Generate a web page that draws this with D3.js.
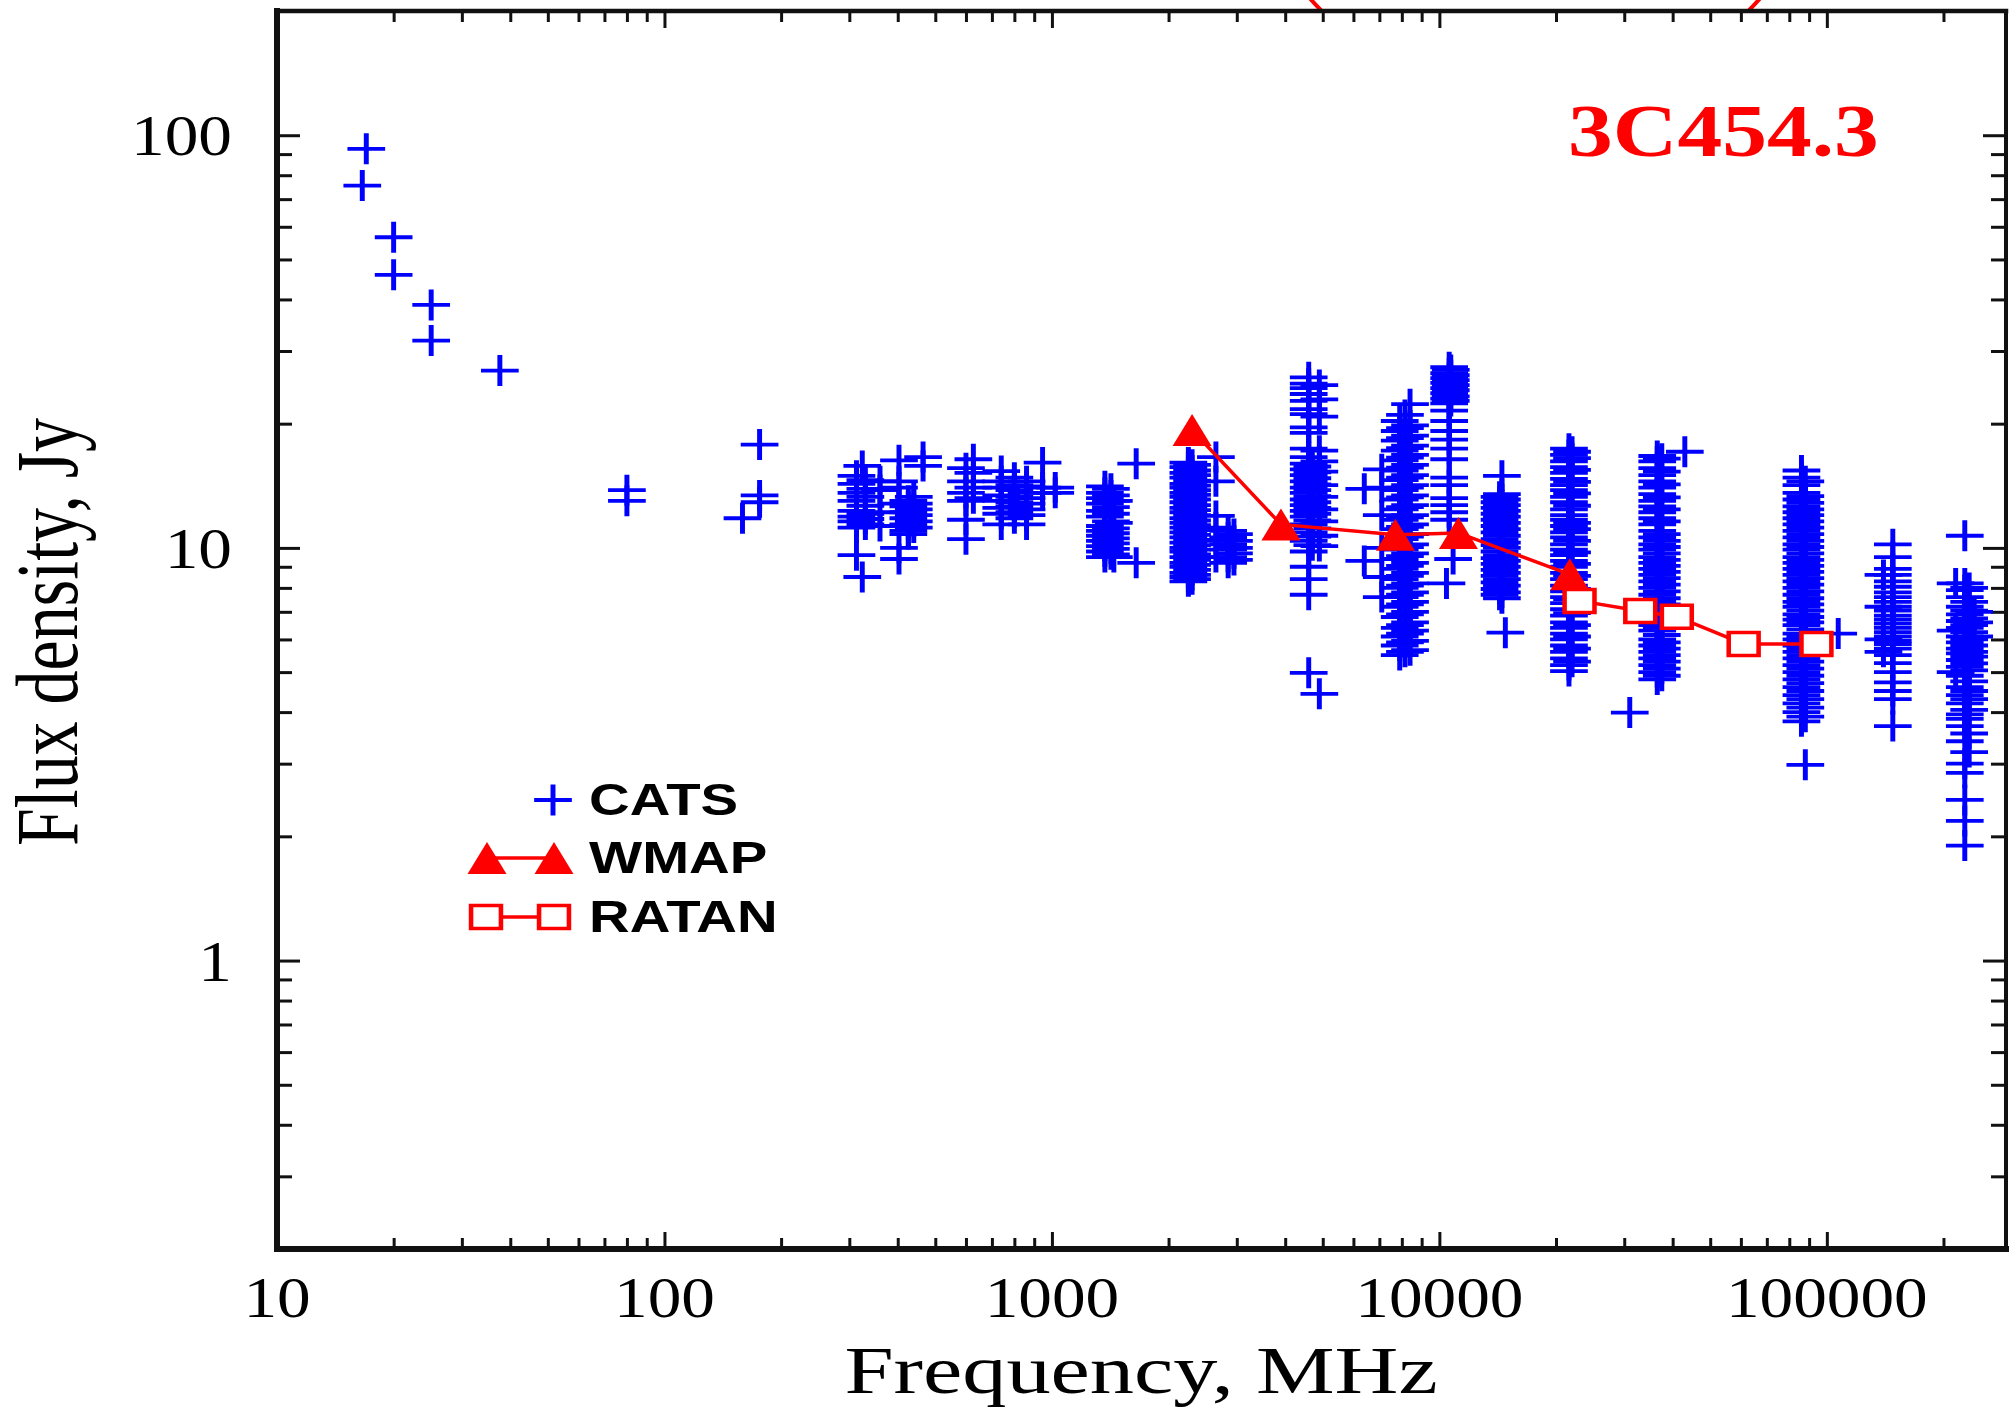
<!DOCTYPE html>
<html>
<head>
<meta charset="utf-8">
<script src="https://cdn.jsdelivr.net/npm/d3@7"></script>
<style>
  body { margin: 0; background: #fff; }
  svg { display: block; }
</style>
</head>
<body>
<svg id="chart" width="2013" height="1414"></svg>
<script>
// CATS catalogue measurements: frequency (MHz) and flux densities (Jy) at that frequency
const catsFreq = [
  17.0, 16.6, 20, 25, 37.6, 80, 159, 176,
  313, 324, 330, 360, 403, 426, 440, 465,
  600, 627, 740, 800, 860, 946, 1020,
  1370, 1420, 1445, 1650, 2250, 2300, 2650, 2850, 2950,
  4600, 4700, 4900, 6400, 7100, 7900, 8150, 8400,
  10600, 10700, 10850, 10430, 14300, 14500, 14800, 21600, 22000,
  31000, 36500, 37500, 43000, 86000, 88000, 107000,
  140000, 148000, 215000, 227000, 233000, 240000
];
const catsFlux = [
  [92.7], [75.5], [56.6, 45.9], [38.8, 31.8], [26.9], [13.8, 13.0], [11.8], [17.8, 13.4, 12.9],
  [14.95, 14.3, 13.6, 13.0, 12.3, 11.9, 11.6, 11.2, 9.6],
  [15.8, 8.5],
  [14.6, 13.9, 13.3, 12.65, 12.1, 11.75, 11.4],
  [14.5, 13.8, 12.2, 11.3],
  [16.3, 14.5, 14.0, 12.8, 10.0, 9.4],
  [13.0, 12.6, 12.2, 11.8, 11.4, 11.0, 10.8],
  [13.3, 12.8, 12.4, 12.0, 11.6, 11.2],
  [16.6, 15.8],
  [15.6, 14.5, 13.6, 13.0, 11.7, 10.5],
  [16.4, 15.2, 14.0, 13.2],
  [15.35, 14.5, 14.0, 13.4, 13.0, 12.5, 12.1, 11.4],
  [14.8, 14.2, 13.8, 13.3, 12.9, 12.6, 12.2, 11.8],
  [14.5, 14.1, 13.6, 13.2, 12.8, 12.4, 12.0, 11.4],
  [16.1, 14.0, 13.6],
  [14.0, 13.6],
  [14.1, 13.6, 13.2, 12.8, 12.3, 11.9, 11.3, 11.0, 10.7, 10.4, 10.1, 9.8, 9.5],
  [13.9, 13.4, 13.0, 12.55, 12.1, 11.6, 11.15, 10.85, 10.55, 10.25, 9.95, 9.65],
  [13.0, 11.5, 9.5],
  [16.0, 9.2],
  [16.1, 15.7, 15.2, 14.8, 14.3, 14.0, 13.6, 13.3, 12.9, 12.5, 12.2, 11.8, 11.5, 11.2, 10.9,
   10.6, 10.3, 10.0, 9.8, 9.5, 9.2, 9.0, 8.7, 8.5, 8.3],
  [15.9, 15.4, 15.0, 14.55, 14.15, 13.8, 13.45, 13.1, 12.7, 12.35, 12.0, 11.65, 11.35, 11.05,
   10.75, 10.45, 10.15, 9.9, 9.65, 9.35, 9.1, 8.85, 8.6, 8.4],
  [16.6, 14.5, 11.95, 11.2, 10.4, 9.5],
  [11.0, 10.6, 10.2, 9.9, 9.5, 9.2],
  [10.8, 10.4, 10.0, 9.7, 9.35],
  [25.9, 25.0, 24.4, 23.6, 22.7, 21.7, 21.1, 19.6, 19.0, 17.4, 16.6, 16.0, 15.5, 15.0, 14.5,
   14.0, 13.6, 13.1, 12.7, 12.3, 11.9, 11.4, 10.9, 10.4, 9.8, 9.0, 8.4, 7.7, 4.98],
  [15.75, 15.25, 14.75, 14.25, 13.8, 13.35, 12.9, 12.5, 12.1, 11.65, 11.15, 10.65, 10.15],
  [24.8, 22.9, 20.8, 17.2, 16.2, 15.3, 14.2, 13.3, 12.4, 11.6, 10.7, 10.1, 4.43],
  [13.9, 9.3],
  [15.5, 14.0, 12.0, 10.0, 8.5, 7.6],
  [20.3, 19.2, 18.2, 17.2, 16.3, 15.4, 14.6, 13.8, 13.1, 12.4, 11.7, 11.1, 10.5, 9.9, 9.4,
   8.9, 8.4, 8.0, 7.6, 7.2, 6.8, 6.4, 6.1, 5.8, 5.5],
  [21.0, 19.5, 18.45, 17.45, 16.55, 15.65, 14.8, 14.0, 13.25, 12.55, 11.85, 11.25, 10.65, 10.05,
   9.55, 9.05, 8.55, 8.1, 7.7, 7.3, 6.9, 6.5, 6.2, 5.9, 5.6],
  [22.3, 19.8, 18.7, 17.7, 16.8, 15.9, 15.0, 14.2, 13.4, 12.7, 12.0, 11.4, 10.8, 10.2, 9.7,
   9.2, 8.7, 8.2, 7.8, 7.4, 7.0, 6.6, 6.3, 5.95, 5.65],
  [27.4, 26.5, 25.8, 25.1, 24.4, 23.7, 23.0, 22.4, 21.5, 20.3, 19.2, 18.3, 17.4, 16.4, 14.8,
   14.2, 13.2, 12.7, 12.2, 11.7],
  [27.0, 26.2, 25.5, 24.8, 24.1, 23.3, 22.7],
  [9.4],
  [8.2],
  [13.3, 12.9, 12.5, 12.1, 11.7, 11.3, 10.9, 10.5, 10.15, 9.8, 9.45, 9.15, 8.85, 8.55, 8.25,
   7.95, 7.7],
  [14.95, 13.5, 13.1, 12.7, 12.3, 11.9, 11.5, 11.1, 10.7, 10.3, 10.0, 9.6, 9.3, 9.0, 8.7,
   8.4, 8.1, 7.8, 7.55],
  [6.23],
  [17.4, 16.8, 16.2, 15.7, 15.2, 14.7, 14.2, 13.8, 13.3, 12.9, 12.4, 12.0, 11.7, 11.3, 10.9,
   10.6, 10.2, 9.9, 9.6, 9.3, 9.0, 8.7, 8.4, 8.1, 7.85, 7.6, 7.35, 7.1, 6.85, 6.6,
   6.4, 6.2, 6.0, 5.8, 5.6, 5.4, 5.2, 5.03],
  [17.1, 16.5, 15.45, 14.45, 13.55, 12.65, 11.5, 11.1, 10.4, 9.75, 9.15, 8.55, 7.95, 7.5, 6.95,
   6.5, 6.1, 5.7, 5.3],
  [3.99],
  [16.7, 16.2, 15.6, 15.0, 14.5, 14.0, 13.5, 13.0, 12.6, 12.2, 11.8, 11.4, 11.0, 10.6, 10.2,
   9.9, 9.5, 9.2, 8.9, 8.6, 8.3, 8.0, 7.7, 7.4, 7.2, 6.9, 6.7, 6.5, 6.3, 6.0,
   5.8, 5.6, 5.4, 5.2, 5.0, 4.8],
  [16.45, 15.3, 14.25, 13.25, 12.4, 11.6, 10.8, 10.4, 10.05, 9.7, 9.35, 9.05, 8.75, 8.45, 8.15,
   7.85, 7.55, 7.3, 7.05, 6.8, 6.6, 6.4, 6.15, 5.9, 5.7, 5.5, 5.3, 5.1, 4.9],
  [17.1],
  [15.4, 14.8, 14.2, 13.6, 13.1, 12.6, 12.2, 11.8, 11.4, 11.0, 10.6, 10.2, 9.9, 9.5, 9.2,
   8.9, 8.6, 8.3, 8.0, 7.7, 7.4, 7.2, 6.9, 6.7, 6.5, 6.2, 6.0, 5.8, 5.6, 5.4,
   5.2, 5.0, 4.8, 4.6, 4.4, 4.2, 4.0, 3.8],
  [14.5, 13.35, 12.85, 12.4, 12.0, 11.6, 11.2, 10.8, 10.4, 10.05, 9.7, 9.35, 9.05, 8.75, 8.45,
   8.15, 7.85, 7.55, 7.3, 7.05, 6.8, 6.6, 6.35, 6.1, 5.9, 5.7, 5.5, 5.3, 5.1, 4.9,
   4.7, 4.5, 4.3, 4.1, 3.9, 2.98],
  [6.2],
  [8.6, 7.2, 6.0, 5.6],
  [10.2, 9.5, 8.9, 8.6, 8.3, 8.05, 7.8, 7.6, 7.4, 7.2, 7.05, 6.85, 6.7, 6.55, 6.4, 6.25, 6.1,
   5.95, 5.85, 5.7, 5.5, 5.26, 5.0, 4.72, 4.5, 4.3, 3.7],
  [8.2, 6.3, 5.0],
  [10.7, 8.2, 7.9, 7.6, 7.2, 6.9, 6.65, 6.4, 6.1, 5.9, 5.7, 5.55, 5.35, 5.15, 4.9,
   4.6, 4.4, 4.2, 3.95, 3.85, 3.7, 3.4, 3.0, 2.85, 2.45, 2.18, 1.9],
  [8.0, 7.4, 7.05, 6.75, 6.5, 6.25, 6.0, 5.8, 5.6, 5.45, 5.25, 5.05, 4.75, 4.5, 4.3, 4.05,
   3.55, 3.2],
  [7.0, 6.6, 6.1]
];

// WMAP-labelled series (filled triangles)
const wmapFreq = [2300, 3900, 7700, 11200, 21700];
const wmapFlux = [19.3, 11.4, 10.76, 10.87, 8.63];

// RATAN-labelled series (open squares)
const ratanFreq = [23000, 33000, 41000, 61000, 94000];
const ratanFlux = [7.44, 7.03, 6.81, 5.85, 5.85];

const xTickValues = [10, 100, 1000, 10000, 100000];
const yTickValues = [1, 10, 100];
const legendLabels = ["CATS", "WMAP", "RATAN"];
const sourceName = "3C454.3";
const xTitle = "Frequency, MHz";
const yTitle = "Flux density, Jy";

const BLUE = "#0000ff", RED = "#ff0000", INK = "#111";
const STRETCH = 1.3;   // glyphs and markers are drawn wider than tall

const svg = d3.select("#chart");
const box = { left: 277, right: 2006, top: 11, bottom: 1249 };

const x = d3.scaleLog().domain([10, 290000]).range([box.left, box.right]);
const y = d3.scaleLog().domain([0.2, 200]).range([box.bottom, box.top]);

// red outline peeking above the frame
svg.append("clipPath").attr("id", "aboveFrame")
  .append("rect").attr("x", 0).attr("y", 0).attr("width", 2013).attr("height", box.top);
svg.append("circle")
  .attr("clip-path", "url(#aboveFrame)")
  .attr("cx", 1535).attr("cy", -200).attr("r", 300)
  .attr("fill", "none").attr("stroke", RED).attr("stroke-width", 4);

// ---- ticks ----
const isDecade = v => Math.abs(Math.log10(v) - Math.round(Math.log10(v))) < 1e-9;
const xMinor = x.ticks().filter(v => !isDecade(v));
const yMinor = y.ticks().filter(v => !isDecade(v));
const yMajor = y.ticks().filter(isDecade);
const xMajor = x.ticks().filter(isDecade);

function tickAxis(gen, scale, values, size, tx, ty) {
  const g = svg.append("g")
    .attr("transform", `translate(${tx},${ty})`)
    .call(gen(scale).tickValues(values).tickSizeInner(size).tickSizeOuter(0).tickFormat(""));
  g.select(".domain").remove();
  g.selectAll(".tick line").attr("stroke", INK).attr("stroke-width", 3);
}
// inward ticks on all four sides
tickAxis(d3.axisBottom, x, xMajor, -17, 0, box.bottom);
tickAxis(d3.axisBottom, x, xMinor, -11, 0, box.bottom);
tickAxis(d3.axisTop, x, xMajor, -17, 0, box.top);
tickAxis(d3.axisTop, x, xMinor, -11, 0, box.top);
tickAxis(d3.axisLeft, y, yMajor, -23, box.left, 0);
tickAxis(d3.axisLeft, y, yMinor, -15, box.left, 0);
tickAxis(d3.axisRight, y, yMajor, -23, box.right, 0);
tickAxis(d3.axisRight, y, yMinor, -15, box.right, 0);

// ---- CATS crosses ----
const CROSS = "M-14.5,0H14.5M0,-15.5V15.5";
const catsPoints = catsFreq.flatMap((f, i) => catsFlux[i].map(v => ({ f, v })));
svg.append("g").selectAll("path")
  .data(catsPoints).join("path")
  .attr("transform", d => `translate(${x(d.f)},${y(d.v)}) scale(${STRETCH},1)`)
  .attr("d", CROSS)
  .attr("stroke", BLUE).attr("stroke-width", 3.8).attr("fill", "none");

// ---- connected series ----
const line = d3.line().x(d => x(d[0])).y(d => y(d[1]));
const wmapPts = wmapFreq.map((f, i) => [f, wmapFlux[i]]);
const ratanPts = ratanFreq.map((f, i) => [f, ratanFlux[i]]);

svg.append("path").attr("d", line(wmapPts))
  .attr("fill", "none").attr("stroke", RED).attr("stroke-width", 3.5);
svg.append("path").attr("d", line(ratanPts))
  .attr("fill", "none").attr("stroke", RED).attr("stroke-width", 3.5);

const TRI = "M0,-16L15,16L-15,16Z";
const SQR = "M-11.5,-11.5H11.5V11.5H-11.5Z";

svg.append("g").selectAll("path")
  .data(wmapPts).join("path")
  .attr("transform", d => `translate(${x(d[0])},${y(d[1])}) scale(${STRETCH},1)`)
  .attr("d", TRI).attr("fill", RED);

svg.append("g").selectAll("path")
  .data(ratanPts).join("path")
  .attr("transform", d => `translate(${x(d[0])},${y(d[1])}) scale(${STRETCH},1)`)
  .attr("d", SQR).attr("fill", "#fff").attr("stroke", RED).attr("stroke-width", 3.5);

// ---- frame: heavier on the left and bottom ----
const frame = svg.append("g").attr("stroke", INK).attr("stroke-linecap", "square");
frame.append("line").attr("x1", box.left).attr("x2", box.right)
  .attr("y1", box.top).attr("y2", box.top).attr("stroke-width", 4.5);
frame.append("line").attr("x1", box.right).attr("x2", box.right)
  .attr("y1", box.top).attr("y2", box.bottom).attr("stroke-width", 4);
frame.append("line").attr("x1", box.left).attr("x2", box.right)
  .attr("y1", box.bottom).attr("y2", box.bottom).attr("stroke-width", 6);
frame.append("line").attr("x1", box.left).attr("x2", box.left)
  .attr("y1", box.top).attr("y2", box.bottom).attr("stroke-width", 6);

// ---- text helpers ----
const serif = "'Liberation Serif', 'Times New Roman', serif";
const sans = "'Liberation Sans', Arial, sans-serif";

function stretchedText(tx, ty, txt, opts) {
  return svg.append("text")
    .attr("transform", `translate(${tx},${ty}) scale(${opts.sx || 1},1)`)
    .attr("text-anchor", opts.anchor || "start")
    .attr("font-family", opts.family)
    .attr("font-size", opts.size)
    .attr("font-weight", opts.weight || "normal")
    .attr("fill", opts.fill || "#000")
    .text(txt);
}

// ---- tick labels ----
xTickValues.forEach(v => stretchedText(x(v), 1317, String(v),
  { family: serif, size: 58, sx: 1.16, anchor: "middle" }));
yTickValues.forEach(v => stretchedText(232, y(v) + 20, String(v),
  { family: serif, size: 58, sx: 1.16, anchor: "end" }));

// ---- axis titles ----
stretchedText(1141, 1393, xTitle, { family: serif, size: 68, sx: STRETCH, anchor: "middle" });
svg.append("text")
  .attr("transform", `translate(77,632) scale(${STRETCH},1) rotate(-90)`)
  .attr("text-anchor", "middle")
  .attr("font-family", serif).attr("font-size", 68)
  .text(yTitle);

// ---- source name ----
stretchedText(1568, 156, sourceName,
  { family: serif, size: 74, sx: 1.21, weight: "bold", fill: RED });

// ---- legend ----
const legendY = [800, 858, 917];
const lg = svg.append("g");
lg.append("path")
  .attr("transform", `translate(553,${legendY[0]}) scale(${STRETCH},1)`)
  .attr("d", CROSS)
  .attr("stroke", BLUE).attr("stroke-width", 3.8);
lg.append("line").attr("x1", 487).attr("x2", 554).attr("y1", legendY[1]).attr("y2", legendY[1])
  .attr("stroke", RED).attr("stroke-width", 3.5);
[487, 554].forEach(cx => lg.append("path")
  .attr("transform", `translate(${cx},${legendY[1]}) scale(${STRETCH},1)`)
  .attr("d", TRI).attr("fill", RED));
lg.append("line").attr("x1", 486).attr("x2", 554).attr("y1", legendY[2]).attr("y2", legendY[2])
  .attr("stroke", RED).attr("stroke-width", 3.5);
[486, 554].forEach(cx => lg.append("path")
  .attr("transform", `translate(${cx},${legendY[2]}) scale(${STRETCH},1)`)
  .attr("d", SQR).attr("fill", "#fff").attr("stroke", RED).attr("stroke-width", 3.5));
legendLabels.forEach((t, i) => stretchedText(589, legendY[i] + 15, t,
  { family: sans, size: 44, sx: 1.28, weight: "bold" }));
</script>
</body>
</html>
